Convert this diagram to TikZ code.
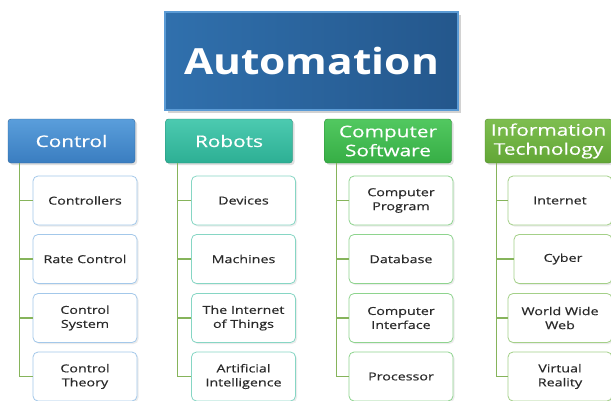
\documentclass[tikz,border=0pt]{standalone}
\usepackage{fontspec}
\setmainfont{Open Sans}
\newfontfamily\titlefont[FakeStretch=1.18]{Open Sans}
\newfontfamily\widefont[FakeStretch=1.3,FakeBold=0.4]{Open Sans}
\usetikzlibrary{shadows,calc}
\definecolor{topblue}{HTML}{3070AD}
\definecolor{topdark}{HTML}{24578C}
\definecolor{toplight}{HTML}{5B9BD5}
\definecolor{ctrlA}{HTML}{5A9EDB}
\definecolor{ctrlB}{HTML}{3A7DC0}
\definecolor{robA}{HTML}{4CCAB0}
\definecolor{robB}{HTML}{2DAF94}
\definecolor{csA}{HTML}{52C860}
\definecolor{csB}{HTML}{36AE45}
\definecolor{itA}{HTML}{7EBE50}
\definecolor{itB}{HTML}{62A636}
\definecolor{bCtrl}{HTML}{A3C8EA}
\definecolor{bRob}{HTML}{86D6C4}
\definecolor{bCs}{HTML}{8ED48E}
\definecolor{bIt}{HTML}{A4D088}
\definecolor{linecol}{HTML}{86B45B}
\definecolor{txt}{HTML}{2A2A2A}
\tikzset{
  px/.style={x=1pt,y=-1pt},
  topbox/.style={draw=toplight, line width=1.2pt, left color=topblue, right color=topdark,
    minimum width=293pt, minimum height=98pt, inner sep=0pt,
    text=white, font=\titlefont\bfseries\fontsize{36}{40}\selectfont,
    drop shadow={shadow xshift=3pt, shadow yshift=-3pt, opacity=0.35}},
  header/.style={rounded corners=3pt, minimum width=127pt, minimum height=44pt, inner sep=0pt,
    text=white, align=center, font=\widefont\fontsize{16}{19}\selectfont,
    drop shadow={shadow xshift=2pt, shadow yshift=-2pt, opacity=0.25}},
  hctrl/.style={header, top color=ctrlA, bottom color=ctrlB, draw=ctrlB!80!black},
  hrob/.style={header, top color=robA, bottom color=robB, draw=robB!80!black},
  hcs/.style={header, top color=csA, bottom color=csB, draw=csB!80!black},
  hit/.style={header, top color=itA, bottom color=itB, draw=itB!80!black},
  child/.style={rounded corners=5pt, fill=white, line width=0.8pt,
    minimum width=104pt, minimum height=49pt, inner sep=0pt, align=center,
    text=txt, font=\widefont\fontsize{11}{14}\selectfont,
    drop shadow={shadow xshift=1.5pt, shadow yshift=-1.5pt, opacity=0.15}},
  cctrl/.style={child, draw=bCtrl},
  crob/.style={child, draw=bRob},
  ccs/.style={child, draw=bCs},
  cit/.style={child, draw=bIt},
  conn/.style={draw=linecol, line width=1.3pt},
}
\begin{document}
\begin{tikzpicture}[px]
\clip (0,0) rectangle (611,400);
\fill[white] (0,0) rectangle (611,400);

\node[topbox] (top) at (311.5,61) {Automation};

% Control column
\node[hctrl] (c) at (71.5,141) {Control};
\node[cctrl] (c1) at (85,200.5) {Controllers};
\node[cctrl] (c2) at (85,259) {Rate Control};
\node[cctrl] (c3) at (85,318) {Control\\System};
\node[cctrl] (c4) at (85,376.5) {Control\\Theory};

% Robots column
\node[hrob] (r) at (229,141) {Robots};
\node[crob] (r1) at (243.5,200.5) {Devices};
\node[crob] (r2) at (243.5,259) {Machines};
\node[crob] (r3) at (243.5,318) {The Internet\\of Things};
\node[crob] (r4) at (243.5,376.5) {Artificial\\Intelligence};

% Computer Software column
\node[hcs] (s) at (388,141) {Computer\\Software};
\node[ccs] (s1) at (401,200.5) {Computer\\Program};
\node[ccs] (s2) at (401,259) {Database};
\node[ccs] (s3) at (401,318) {Computer\\Interface};
\node[ccs] (s4) at (401,376.5) {Processor};

% Information Technology column
\node[hit] (t) at (548.5,141) {Information\\Technology};
\node[cit] (t1) at (560,200.5) {Internet};
\node[cit, minimum width=98pt] (t2) at (563,259) {Cyber};
\node[cit] (t3) at (560,318) {World Wide\\Web};
\node[cit] (t4) at (560,376.5) {Virtual\\Reality};

% connectors
\foreach \h in {c,r,s,t}{
  \coordinate (\h l) at ($(\h.south west)+(12,0)$);
  \draw[conn] (\h l) |- (\h4.west);
  \foreach \i in {1,2,3}{
    \draw[conn] (\h l |- \h\i.west) -- (\h\i.west);
  }
}
\end{tikzpicture}
\end{document}
